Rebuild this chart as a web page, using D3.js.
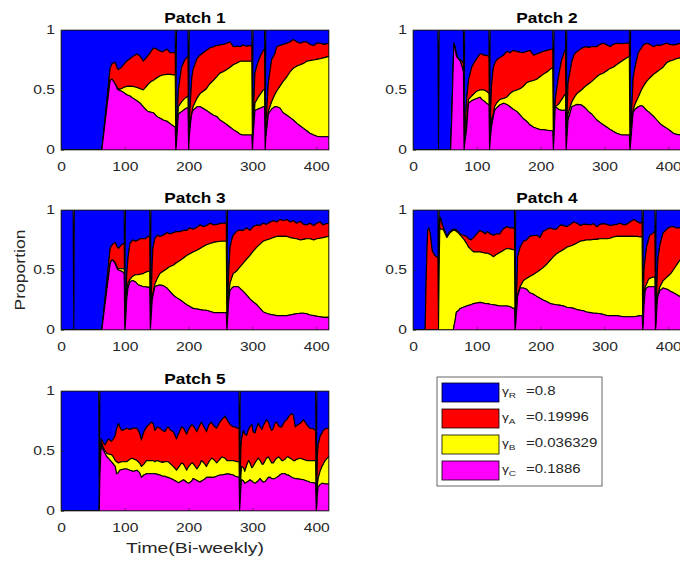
<!DOCTYPE html>
<html>
<head>
<meta charset="utf-8">
<script src="https://cdn.jsdelivr.net/npm/d3@7"></script>
<style>
body { margin: 0; background: #fff; }
text { font-family: "Liberation Sans", Arial, Helvetica, sans-serif; fill: #262626; }
</style>
</head>
<body>
<svg id="chart" width="680" height="563"></svg>
<script>
// rows: [time, top of C, top of B, top of A]  (stacked, R fills up to 1)
const patch1 = [
	[0,0,0,0],[64,0,0,0],[77,.58,.58,.68],[80,.59,.59,.72],[85,.55,.55,.73],[88,.51,.52,.68],[90,.5,.505,.67],
	[95,.49,.51,.69],[98,.48,.52,.71],[103,.46,.53,.74],[108,.45,.53,.76],[113,.43,.53,.78],[119,.41,.52,.8],
	[124,.39,.51,.78],[129,.36,.5,.74],[134,.33,.53,.77],[137,.32,.55,.79],[141,.315,.57,.82],[145,.31,.58,.85],
	[150,.28,.6,.84],[153,.27,.61,.83],[157,.26,.62,.82],[160,.25,.625,.82],[166,.24,.63,.84],[171,.22,.63,.81],
	[176,.2,.625,.81],[179,.19,.625,.81],
	[181,.05,.07,.12],[184,.3,.36,.5],[189,.32,.4,.69],[194,.34,.43,.75],[197,.35,.44,.77],[199,.35,.45,.78],
	[201,.1,.12,.2],[203,.22,.25,.42],[205,.3,.3,.6],[207,.33,.36,.67],[213,.36,.43,.76],[218,.36,.47,.79],
	[223,.345,.49,.81],[228,.33,.51,.83],[233,.31,.55,.85],[239,.29,.58,.86],[244,.28,.61,.87],[249,.25,.64,.875],
	[255,.23,.655,.88],[260,.21,.67,.89],[265,.19,.69,.9],[270,.17,.71,.86],[276,.15,.725,.865],[281,.13,.74,.86],
	[285,.125,.74,.875],[290,.125,.74,.865],[296,.125,.74,.87],[299,.125,.74,.87],
	[301,.1,.12,.25],[304,.33,.39,.64],[308,.34,.43,.72],[313,.35,.47,.79],[317,.36,.5,.83],[319,.36,.5,.84],
	[321,.1,.1,.2],[325,.3,.32,.56],[330,.34,.4,.75],[335,.36,.46,.8],[338,.36,.49,.86],[343,.35,.53,.87],
	[348,.31,.57,.88],[354,.29,.61,.89],[359,.27,.65,.9],[364,.25,.68,.92],[370,.22,.7,.9],[375,.2,.71,.89],
	[380,.18,.72,.9],[385,.16,.74,.9],[390,.14,.745,.88],[396,.125,.75,.87],[401,.115,.755,.89],[406,.11,.76,.89],
	[413,.11,.77,.88],[420,.11,.78,.89]
];
const resets1 = [180, 200, 300, 320];

const patch2 = [
	[0,0,0,0],[39,0,0,0],[41,0,0,0],[59,0,0,0],[61,.3,.3,.3],[64,.88,.88,.89],[66,.84,.84,.86],[68,.78,.78,.8],
	[71,.76,.76,.76],[74,.74,.74,.75],[77,.69,.69,.74],[79,.65,.65,.72],
	[81,.05,.05,.1],[84,.17,.2,.42],[87,.39,.42,.58],[92,.41,.45,.69],[96,.42,.47,.73],[100,.43,.49,.76],
	[105,.44,.5,.8],[108,.42,.5,.8],[111,.41,.5,.79],[115,.39,.49,.79],[119,.375,.47,.78],
	[121,.08,.1,.2],[123,.19,.25,.53],[126,.28,.3,.69],[128,.33,.36,.72],[131,.35,.39,.75],[136,.375,.42,.77],
	[142,.39,.43,.79],[147,.38,.44,.82],[152,.36,.47,.81],[157,.34,.49,.83],[163,.32,.5,.82],[168,.29,.51,.815],
	[173,.26,.53,.81],[178,.24,.56,.82],[183,.21,.57,.83],[189,.19,.58,.79],[194,.18,.59,.8],[199,.17,.61,.81],
	[204,.17,.63,.82],[210,.165,.65,.83],[217,.16,.68,.84],[219,.16,.68,.845],
	[221,.1,.12,.2],[223,.36,.36,.42],[228,.34,.38,.61],[233,.33,.42,.75],[238,.33,.46,.83],[239,.33,.46,.83],
	[241,.08,.1,.2],[243,.25,.3,.56],[249,.36,.4,.74],[253,.37,.44,.8],[257,.38,.47,.82],[264,.375,.5,.845],
	[270,.35,.53,.86],[275,.32,.55,.855],[280,.3,.57,.86],[288,.25,.61,.86],[293,.23,.63,.88],[298,.21,.64,.89],
	[304,.19,.66,.875],[309,.17,.68,.86],[314,.155,.69,.88],[319,.14,.71,.89],[327,.125,.74,.885],[333,.125,.76,.89],
	[339,.125,.78,.89],
	[341,.05,.05,.15],[344,.25,.28,.47],[345,.31,.33,.6],[348,.34,.38,.69],[353,.36,.44,.81],[358,.37,.5,.85],
	[361,.36,.53,.875],[366,.33,.57,.89],[371,.31,.6,.88],[377,.28,.63,.86],[382,.25,.65,.875],[387,.22,.67,.87],
	[392,.2,.69,.88],[398,.18,.73,.89],[402,.165,.74,.88],[408,.14,.75,.875],[413,.13,.76,.88],[420,.125,.77,.89]
];
const resets2 = [40, 80, 120, 220, 240, 340];

const patch3 = [
	[0,0,0,0],[19,0,0,0],[21,0,0,0],[64,0,0,0],[77,.55,.55,.68],[79,.58,.58,.7],[82,.58,.58,.72],[85,.55,.56,.73],
	[88,.51,.52,.69],[90,.5,.51,.68],[95,.49,.51,.71],[99,.47,.51,.72],
	[101,.05,.06,.1],[103,.25,.28,.45],[105,.35,.39,.6],[108,.4,.42,.72],[111,.41,.44,.74],[113,.41,.45,.75],
	[117,.4,.46,.74],[121,.375,.46,.75],[124,.37,.465,.76],[129,.36,.47,.76],[132,.36,.48,.76],[137,.355,.49,.78],
	[139,.355,.49,.78],
	[141,.08,.1,.2],[143,.25,.28,.56],[144,.28,.3,.68],[147,.36,.38,.76],[151,.37,.43,.79],[155,.375,.47,.78],
	[160,.37,.49,.79],[166,.35,.51,.81],[171,.32,.53,.8],[176,.29,.54,.81],[181,.27,.56,.82],[187,.25,.58,.82],
	[192,.23,.6,.83],[197,.21,.62,.83],[202,.195,.635,.85],[207,.18,.65,.84],[213,.175,.665,.855],[218,.17,.68,.875],
	[223,.165,.695,.86],[228,.165,.71,.87],[234,.155,.72,.89],[239,.145,.73,.875],[245,.145,.735,.88],
	[251,.145,.74,.89],[257,.145,.74,.89],[259,.145,.74,.89],
	[261,.08,.1,.2],[263,.25,.3,.5],[265,.33,.39,.69],[268,.35,.44,.76],[270,.36,.47,.79],[275,.36,.49,.82],
	[278,.36,.51,.83],[286,.32,.56,.83],[291,.29,.59,.85],[296,.26,.62,.83],[301,.235,.655,.86],[307,.21,.69,.875],
	[312,.18,.715,.87],[317,.15,.74,.89],[322,.14,.75,.88],[328,.13,.76,.9],[333,.125,.77,.91],[338,.12,.78,.9],
	[343,.12,.78,.92],[349,.12,.78,.91],[354,.12,.78,.92],[359,.125,.77,.9],[364,.13,.765,.91],[369,.135,.76,.89],
	[375,.14,.75,.905],[380,.14,.755,.88],[385,.135,.76,.875],[390,.125,.76,.89],[396,.12,.75,.87],[401,.115,.76,.89],
	[406,.11,.765,.9],[411,.105,.77,.875],[415,.105,.775,.885],[420,.105,.78,.89]
];
const resets3 = [20, 100, 140, 260];

const patch4 = [
	[0,0,0,0],[19,0,0,0],[21,0,0,.5],[23,0,0,.83],[25,0,0,.85],[27,0,0,.8],[30,0,0,.66],[34,0,0,.62],
	[37,0,0,.61],[39,0,0,.6],
	[41,0,.5,.6],[42,0,.85,.89],[43,0,.84,.94],[46,0,.84,.87],[48,0,.83,.85],[53,0,.77,.78],[58,0,.81,.82],
	[63,0,.83,.84],[66,.08,.83,.84],[68,.15,.82,.835],[71,.16,.81,.82],[74,.18,.79,.8],[79,.19,.76,.79],
	[84,.2,.72,.78],[87,.205,.69,.76],[91,.21,.67,.75],[95,.22,.65,.77],[100,.225,.65,.8],[105,.23,.65,.83],
	[110,.225,.645,.815],[113,.22,.64,.8],[117,.22,.64,.82],[121,.215,.63,.8],[126,.21,.61,.79],[131,.205,.63,.8],
	[136,.2,.645,.8],[141,.2,.66,.84],[147,.2,.68,.86],[152,.195,.675,.85],[157,.18,.67,.85],[159,.18,.67,.84],
	[161,.05,.08,.2],[163,.2,.25,.39],[164,.28,.3,.61],[168,.35,.36,.69],[173,.35,.41,.74],[178,.34,.43,.75],
	[183,.31,.445,.78],[188,.3,.46,.785],[194,.28,.48,.79],[199,.265,.5,.77],[204,.25,.52,.82],[210,.235,.55,.84],
	[215,.22,.58,.85],[220,.215,.61,.84],[225,.21,.635,.84],[231,.205,.655,.875],[236,.2,.67,.87],[241,.19,.69,.86],
	[247,.185,.7,.88],[252,.18,.71,.9],[257,.17,.725,.89],[262,.165,.74,.87],[267,.16,.745,.88],[272,.15,.75,.88],
	[278,.145,.75,.875],[283,.14,.755,.885],[288,.14,.755,.86],[293,.135,.76,.88],[298,.13,.76,.885],[304,.12,.76,.88],
	[309,.12,.765,.87],[314,.12,.775,.875],[319,.12,.78,.88],[325,.115,.78,.89],[330,.11,.78,.875],[335,.11,.78,.88],
	[340,.11,.78,.9],[346,.11,.78,.92],[351,.115,.78,.905],[356,.12,.775,.89],[359,.12,.775,.9],
	[361,.05,.07,.2],[362,.2,.25,.5],[364,.33,.36,.6],[366,.35,.38,.69],[369,.36,.42,.75],[371,.36,.43,.79],
	[375,.36,.44,.8],[378,.36,.44,.82],[379,.36,.44,.82],
	[381,.05,.07,.15],[383,.25,.28,.5],[384,.28,.3,.6],[387,.33,.36,.71],[390,.34,.39,.77],[392,.35,.41,.81],
	[398,.34,.44,.84],[400,.335,.45,.85],[404,.32,.47,.86],[408,.31,.5,.86],[413,.295,.54,.85],[418,.28,.58,.85],
	[420,.28,.59,.85]
];
const resets4 = [40, 160, 360, 380];

const patch5 = [
	[0,0,0,0],[59,0,0,0],
	[61,.3,.32,.35],[63,.55,.57,.6],[64,.53,.56,.59],[66,.51,.53,.57],[69,.48,.5,.55],[72,.45,.48,.58],
	[74,.44,.475,.6],[79,.41,.47,.58],[82,.39,.45,.6],[85,.37,.42,.63],[87,.31,.41,.68],[90,.32,.4,.73],
	[92,.34,.405,.7],[95,.345,.41,.67],[100,.35,.41,.68],[103,.35,.41,.69],[108,.34,.43,.68],[111,.335,.44,.685],
	[113,.33,.435,.69],[119,.34,.42,.69],[123,.32,.4,.65],[126,.28,.37,.59],[130,.3,.39,.66],[134,.31,.42,.7],
	[138,.31,.42,.72],[142,.31,.42,.74],[145,.31,.42,.72],[147,.31,.41,.67],[151,.305,.42,.7],[155,.3,.41,.69],
	[159,.29,.405,.67],[163,.29,.41,.66],[166,.28,.41,.69],[168,.28,.41,.7],[172,.27,.39,.67],[176,.26,.37,.66],
	[181,.245,.34,.6],[184,.235,.36,.64],[189,.25,.4,.7],[192,.26,.39,.69],[197,.24,.34,.64],[200,.23,.37,.68],
	[205,.25,.4,.72],[207,.27,.395,.71],[213,.255,.35,.66],[218,.24,.39,.72],[220,.25,.42,.74],[224,.26,.4,.7],
	[228,.28,.37,.66],[232,.28,.41,.72],[236,.28,.44,.74],[239,.28,.43,.71],[244,.29,.4,.69],[249,.3,.43,.74],
	[252,.3,.45,.76],[257,.305,.44,.79],[260,.31,.42,.76],[265,.305,.42,.72],[270,.3,.42,.7],[273,.29,.415,.7],
	[276,.285,.41,.69],[279,.28,.41,.69],
	[281,.1,.15,.3],[282,.2,.3,.53],[283,.26,.37,.6],[286,.25,.36,.67],[288,.23,.33,.64],[291,.24,.38,.63],
	[294,.25,.42,.68],[296,.26,.4,.7],[299,.25,.36,.72],[301,.24,.37,.66],[304,.23,.4,.65],[309,.25,.44,.73],
	[312,.27,.42,.7],[315,.25,.39,.68],[317,.24,.39,.71],[320,.245,.42,.74],[322,.26,.44,.76],[325,.28,.45,.74],
	[328,.28,.42,.69],[330,.27,.4,.67],[333,.27,.4,.69],[335,.27,.42,.73],[338,.28,.44,.74],[341,.29,.45,.71],
	[343,.3,.44,.7],[346,.31,.42,.7],[348,.31,.42,.72],[351,.31,.43,.75],[354,.3,.45,.76],[356,.3,.45,.78],
	[359,.29,.44,.8],[362,.28,.43,.81],[364,.275,.42,.8],[367,.27,.42,.7],[369,.27,.43,.71],[375,.265,.44,.73],
	[380,.26,.43,.76],[385,.25,.42,.72],[388,.245,.42,.7],[390,.24,.42,.69],[395,.235,.42,.685],[399,.23,.42,.67],
	[401,.05,.1,.25],[402,.15,.22,.48],[403,.2,.27,.55],[406,.22,.33,.62],[409,.23,.37,.65],[411,.23,.39,.67],
	[414,.225,.42,.685],[419,.225,.45,.69],[420,.225,.45,.69]
];
const resets5 = [60, 280, 400];

const titles = ["Patch 1", "Patch 2", "Patch 3", "Patch 4", "Patch 5"];
const xTicks = [0, 100, 200, 300, 400];
const yTicks = [0, 0.5, 1];
const legendKeys = ["R", "A", "B", "C"];
const legendValues = ["0.8", "0.19996", "0.036329", "0.1886"];

const colours = { R: "#0000ff", A: "#ff0000", B: "#ffff00", C: "#ff00ff" };
const pw = 268, ph = 120;
const places = [
	{ left: 61, top: 30 }, { left: 413, top: 30 },
	{ left: 61, top: 210 }, { left: 413, top: 210 },
	{ left: 61, top: 391 }
];
const allData = [patch1, patch2, patch3, patch4, patch5];
const allResets = [resets1, resets2, resets3, resets4, resets5];

const svg = d3.select("#chart");

// stretch text sideways, the reference glyphs are wider than Arial
function stretch(sel, sx) {
	sel.each(function () {
		let t = d3.select(this);
		let x = +t.attr("x") || 0, y = +t.attr("y") || 0;
		t.attr("transform", `translate(${x},${y}) scale(${sx},1)`).attr("x", 0).attr("y", 0);
	});
}

function buildSeries(rows, resets) {
	let pts = rows.map((r) => ({ t: r[0], c: r[1], b: r[2], a: r[3], tot: 1 }));
	resets.forEach((t) => pts.push({ t: t, c: 0, b: 0, a: 0, tot: 0 }));
	pts.sort((p, q) => p.t - q.t);
	return pts;
}

allData.forEach(function (rows, i) {
	let p = places[i];
	let g = svg.append("g").attr("id", "patch" + (i + 1));
	let x = d3.scaleLinear().domain([0, 420]).range([p.left, p.left + pw]);
	let y = d3.scaleLinear().domain([0, 1]).range([p.top + ph, p.top]);
	let pts = buildSeries(rows, allResets[i]);

	g.append("clipPath").attr("id", "clip" + i)
		.append("rect").attr("x", p.left).attr("y", p.top).attr("width", pw).attr("height", ph);

	let layers = [
		{ key: "R", lo: (d) => d.a, hi: (d) => d.tot },
		{ key: "A", lo: (d) => d.b, hi: (d) => d.a },
		{ key: "B", lo: (d) => d.c, hi: (d) => d.b },
		{ key: "C", lo: (d) => 0, hi: (d) => d.c }
	];
	let plot = g.append("g").attr("clip-path", `url(#clip${i})`);
	layers.forEach(function (L) {
		let area = d3.area()
			.x((d) => x(d.t))
			.y0((d) => y(L.lo(d)))
			.y1((d) => y(L.hi(d)));
		plot.append("path")
			.datum(pts)
			.attr("d", area)
			.attr("fill", colours[L.key])
			.attr("stroke", "#000")
			.attr("stroke-width", 1.1)
			.attr("stroke-linejoin", "round");
	});

	// axes, ticks pointing inwards like matlab
	let xa = g.append("g")
		.attr("transform", `translate(0,${p.top + ph})`)
		.call(d3.axisBottom(x).tickValues(xTicks).tickSize(-3).tickSizeOuter(0).tickPadding(12));
	let ya = g.append("g")
		.attr("transform", `translate(${p.left},0)`)
		.call(d3.axisLeft(y).tickValues(yTicks).tickFormat(d3.format("")).tickSize(-3).tickSizeOuter(0).tickPadding(6));
	g.selectAll(".domain").remove();
	g.selectAll(".tick line").attr("stroke", "#262626").attr("stroke-width", 0.6);
	g.selectAll(".tick text").attr("font-size", 12).attr("fill", "#3a3a3a")
		.attr("font-family", '"Liberation Sans", Arial, sans-serif');
	stretch(xa.selectAll(".tick text"), 1.3);
	stretch(ya.selectAll(".tick text"), 1.3);

	g.append("rect")
		.attr("x", p.left).attr("y", p.top).attr("width", pw).attr("height", ph)
		.attr("fill", "none").attr("stroke", "#262626").attr("stroke-width", 0.7);

	let title = g.append("text")
		.attr("x", p.left + pw / 2).attr("y", p.top - 7)
		.attr("text-anchor", "middle")
		.attr("font-size", 15).attr("font-weight", "bold").style("fill", "#000")
		.text(titles[i]);
	stretch(title, 1.15);
});

// axis labels
svg.append("text")
	.attr("transform", "translate(25,270) rotate(-90) scale(1.17,1)")
	.attr("text-anchor", "middle").attr("font-size", 15)
	.text("Proportion");
let xlab = svg.append("text")
	.attr("x", 195).attr("y", 553)
	.attr("text-anchor", "middle").attr("font-size", 15)
	.text("Time(Bi-weekly)");
stretch(xlab, 1.29);

// legend
let legend = svg.append("g").attr("class", "legend");
legend.append("rect")
	.attr("x", 437).attr("y", 377).attr("width", 165).attr("height", 109)
	.attr("fill", "#fff").attr("stroke", "#262626").attr("stroke-width", 0.7);
legendKeys.forEach(function (k, i) {
	let yy = 383 + i * 26;
	legend.append("rect")
		.attr("x", 442).attr("y", yy).attr("width", 57).attr("height", 19)
		.attr("fill", colours[k]).attr("stroke", "#000").attr("stroke-width", 0.8);
	let t = legend.append("text")
		.attr("transform", `translate(502,${yy + 11.5}) scale(1.25,1)`)
		.attr("font-size", 12);
	t.append("tspan").attr("font-size", 11).text("γ");
	t.append("tspan").attr("font-size", 8).attr("dy", 3).text(k);
	t.append("tspan").attr("x", 19.2).attr("dy", -3).text("=" + legendValues[i]);
});
</script>
</body>
</html>
